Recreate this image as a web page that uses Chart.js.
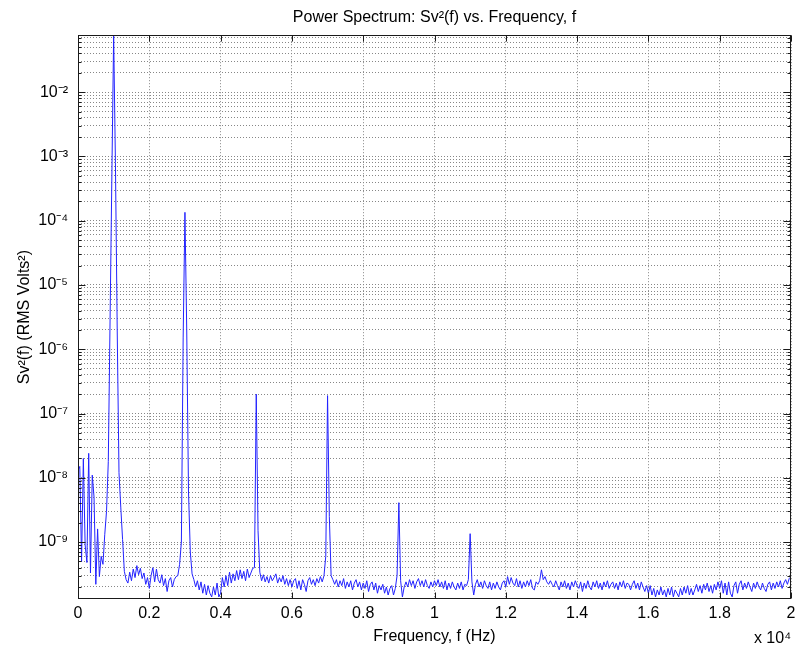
<!DOCTYPE html>
<html>
<head>
<meta charset="utf-8">
<script src="https://cdn.jsdelivr.net/npm/chart.js@4.4.1/dist/chart.umd.min.js"></script>
<style>
  html, body { margin: 0; padding: 0; background: #fff; }
  canvas { display: block; }
</style>
</head>
<body>
<canvas id="c" width="797" height="652"></canvas>
<script>
// ---- Data ----
// Frequency bins are spaced 50 Hz apart, starting at 0 Hz.
const BIN_HZ = 50;
const FREQ_MAX_HZ = 20000;
const X_TICK_STEP_HZ = 2000;
const X_SCALE_DIVISOR = 1e4;   // axis reads "x 10^4"
const Y_MIN = 1.3e-10;
const Y_MAX = 0.077;

// Sv^2(f) values, RMS Volts^2; each row = 10 bins = 500 Hz
const psd_0_to_4950 = [
  1.3e-8, 1.5e-8, 5e-10, 2.0e-8, 9e-10, 4.8e-10, 2.4e-8, 3.3e-10, 1.1e-8, 5e-9,
  2.2e-10, 1.6e-9, 2.9e-10, 6e-10, 4.5e-10, 1.3e-9, 3.0e-9, 1.8e-8, 3e-6, 5e-4,
  7.7e-2, 8e-4, 2e-6, 1.2e-8, 3.5e-9, 1.1e-9, 3.5e-10, 2.6e-10, 2.3e-10, 3.4e-10,
  2.5e-10, 3.8e-10, 2.8e-10, 4.3e-10, 3.1e-10, 3.9e-10, 2.7e-10, 3.3e-10, 2.2e-10, 2.8e-10,
  1.9e-10, 3.0e-10, 4.0e-10, 2.4e-10, 3.8e-10, 2.6e-10, 2.3e-10, 3.1e-10, 2.1e-10, 2.7e-10,
  1.7e-10, 2.5e-10, 2.8e-10, 2.0e-10, 2.6e-10, 2.9e-10, 3.0e-10, 4.5e-10, 1.0e-9, 1.5e-6,
  1.35e-4, 2e-6, 6e-9, 7e-10, 3.2e-10, 2.6e-10, 2.0e-10, 2.5e-10, 1.8e-10, 2.4e-10,
  1.6e-10, 2.2e-10, 1.5e-10, 2.1e-10, 1.6e-10, 1.4e-10, 2.0e-10, 1.5e-10, 2.3e-10, 1.4e-10,
  1.6e-10, 2.8e-10, 2.0e-10, 3.0e-10, 2.1e-10, 3.4e-10, 2.3e-10, 3.2e-10, 2.5e-10, 3.6e-10,
  2.6e-10, 3.7e-10, 2.7e-10, 3.5e-10, 2.5e-10, 3.8e-10, 2.8e-10, 3.3e-10, 3.9e-10, 4.0e-10
];
const psd_5000_to_9950 = [
  2.0e-7, 1.5e-9, 3.4e-10, 2.5e-10, 3.1e-10, 2.4e-10, 2.9e-10, 2.3e-10, 3.0e-10, 2.5e-10,
  2.8e-10, 3.2e-10, 2.3e-10, 2.8e-10, 2.4e-10, 3.0e-10, 2.2e-10, 2.7e-10, 2.1e-10, 2.6e-10,
  2.0e-10, 2.5e-10, 2.7e-10, 1.9e-10, 2.5e-10, 1.8e-10, 2.6e-10, 2.2e-10, 1.7e-10, 2.5e-10,
  2.8e-10, 2.2e-10, 2.6e-10, 2.1e-10, 2.7e-10, 2.3e-10, 2.9e-10, 2.4e-10, 3.0e-10, 6e-10,
  1.9e-7, 2.5e-9, 3.0e-10, 2.6e-10, 2.2e-10, 2.6e-10, 2.0e-10, 2.5e-10, 2.1e-10, 2.7e-10,
  1.9e-10, 2.4e-10, 2.0e-10, 2.5e-10, 1.8e-10, 2.3e-10, 2.6e-10, 2.0e-10, 2.4e-10, 1.8e-10,
  2.3e-10, 1.9e-10, 2.5e-10, 1.7e-10, 2.2e-10, 2.4e-10, 1.8e-10, 2.3e-10, 1.6e-10, 2.1e-10,
  1.8e-10, 2.2e-10, 1.6e-10, 2.0e-10, 1.5e-10, 1.9e-10, 2.1e-10, 1.5e-10, 1.9e-10, 3.0e-10,
  4.1e-9, 2.5e-10, 1.4e-10, 2.0e-10, 2.4e-10, 2.0e-10, 2.6e-10, 2.1e-10, 2.5e-10, 1.9e-10,
  2.4e-10, 2.7e-10, 2.1e-10, 2.5e-10, 2.0e-10, 2.6e-10, 2.1e-10, 1.9e-10, 2.4e-10, 2.0e-10
];
const psd_10000_to_14950 = [
  2.5e-10, 2.1e-10, 2.6e-10, 2.0e-10, 2.4e-10, 1.9e-10, 2.5e-10, 1.8e-10, 2.3e-10, 1.9e-10,
  2.4e-10, 2.0e-10, 1.8e-10, 2.3e-10, 1.9e-10, 2.4e-10, 1.8e-10, 2.2e-10, 2.1e-10, 2.6e-10,
  1.35e-9, 2.4e-10, 1.5e-10, 2.2e-10, 2.6e-10, 2.0e-10, 2.4e-10, 1.9e-10, 2.5e-10, 2.1e-10,
  1.9e-10, 2.4e-10, 1.8e-10, 2.3e-10, 1.9e-10, 2.4e-10, 2.0e-10, 1.8e-10, 2.3e-10, 2.5e-10,
  2.0e-10, 2.9e-10, 2.2e-10, 2.8e-10, 2.3e-10, 2.1e-10, 2.7e-10, 2.0e-10, 2.5e-10, 1.9e-10,
  2.4e-10, 2.0e-10, 2.5e-10, 2.1e-10, 2.6e-10, 1.9e-10, 1.8e-10, 2.4e-10, 2.2e-10, 2.5e-10,
  3.7e-10, 2.6e-10, 2.9e-10, 2.4e-10, 2.2e-10, 2.5e-10, 2.2e-10, 2.0e-10, 2.5e-10, 2.1e-10,
  1.8e-10, 2.4e-10, 2.0e-10, 2.5e-10, 1.9e-10, 2.3e-10, 1.8e-10, 2.4e-10, 2.0e-10, 2.5e-10,
  2.1e-10, 1.9e-10, 2.4e-10, 1.7e-10, 2.3e-10, 1.9e-10, 2.5e-10, 2.0e-10, 1.8e-10, 2.4e-10,
  2.0e-10, 2.5e-10, 1.9e-10, 2.3e-10, 1.8e-10, 2.4e-10, 2.0e-10, 2.5e-10, 1.9e-10, 2.2e-10
];
const psd_15000_to_20000 = [
  2.4e-10, 1.9e-10, 2.3e-10, 1.8e-10, 2.4e-10, 2.0e-10, 2.5e-10, 1.9e-10, 2.3e-10, 2.2e-10,
  1.8e-10, 2.2e-10, 2.5e-10, 1.9e-10, 2.3e-10, 1.8e-10, 2.4e-10, 2.0e-10, 1.7e-10, 2.1e-10,
  1.6e-10, 2.1e-10, 1.5e-10, 1.9e-10, 1.4e-10, 1.8e-10, 1.5e-10, 2.0e-10, 1.5e-10, 1.8e-10,
  1.4e-10, 1.9e-10, 1.5e-10, 2.0e-10, 1.4e-10, 1.8e-10, 1.6e-10, 1.4e-10, 1.9e-10, 1.5e-10,
  2.0e-10, 1.6e-10, 2.1e-10, 1.5e-10, 1.9e-10, 1.5e-10, 1.8e-10, 2.2e-10, 1.7e-10, 2.1e-10,
  1.6e-10, 2.2e-10, 1.8e-10, 2.3e-10, 1.7e-10, 2.1e-10, 1.6e-10, 2.2e-10, 1.8e-10, 2.4e-10,
  1.9e-10, 2.5e-10, 1.6e-10, 2.3e-10, 1.5e-10, 2.4e-10, 1.6e-10, 1.4e-10, 2.1e-10, 2.4e-10,
  1.6e-10, 2.2e-10, 2.5e-10, 1.8e-10, 2.3e-10, 1.9e-10, 2.4e-10, 2.0e-10, 1.7e-10, 2.3e-10,
  1.9e-10, 2.4e-10, 2.0e-10, 1.8e-10, 2.3e-10, 1.9e-10, 1.7e-10, 2.2e-10, 2.4e-10, 1.8e-10,
  2.3e-10, 1.9e-10, 2.4e-10, 2.0e-10, 2.5e-10, 1.9e-10, 2.3e-10, 2.6e-10, 2.2e-10, 2.7e-10,
  2.9e-10
];

const TITLE = 'Power Spectrum: Sv\u00B2(f) vs. Frequency, f';
const X_TITLE = 'Frequency, f (Hz)';
const Y_TITLE = 'Sv\u00B2(f) (RMS Volts\u00B2)';
const X_MULTIPLIER_LABEL = 'x 10\u2074';

// ---- Build dataset ----
const psd = [].concat(psd_0_to_4950, psd_5000_to_9950, psd_10000_to_14950, psd_15000_to_20000);
const points = psd.map((v, i) => ({ x: i * BIN_HZ, y: v }));

const SUP = {'-': '\u207B', '0': '\u2070', '1': '\u00B9', '2': '\u00B2', '3': '\u00B3',
             '4': '\u2074', '5': '\u2075', '6': '\u2076', '7': '\u2077', '8': '\u2078', '9': '\u2079'};
function sup(s) { return String(s).split('').map(c => SUP[c] || c).join(''); }
function decadeExp(v) {
  const e = Math.round(Math.log10(v));
  return Math.abs(v / Math.pow(10, e) - 1) < 1e-6 ? e : null;
}

const FONT = '"Liberation Sans", Arial, Helvetica, sans-serif';
const GRID_COLOR = 'rgb(135,135,135)';

const frameAndTicks = {
  id: 'frameAndTicks',
  afterDraw(chart) {
    const { ctx, chartArea: a, scales: { x, y } } = chart;
    const L = Math.round(a.left) + 0.5, R = Math.round(a.right) - 0.5;
    const T = Math.round(a.top) + 0.5, B = Math.round(a.bottom) - 0.5;
    ctx.save();
    ctx.strokeStyle = '#1a1a1a';
    ctx.lineWidth = 1;
    ctx.beginPath();
    x.ticks.forEach(t => {
      const px = Math.round(x.getPixelForValue(t.value)) + 0.5;
      ctx.moveTo(px, B); ctx.lineTo(px, B - 6);
      ctx.moveTo(px, T); ctx.lineTo(px, T + 6);
    });
    y.ticks.forEach(t => {
      const py = Math.round(y.getPixelForValue(t.value)) + 0.5;
      const len = decadeExp(t.value) !== null ? 7 : 3;
      ctx.moveTo(L, py); ctx.lineTo(L + len, py);
      ctx.moveTo(R, py); ctx.lineTo(R - len, py);
    });
    ctx.stroke();
    ctx.strokeRect(L, T, R - L, B - T);
    ctx.fillStyle = '#000';
    ctx.font = '16px ' + FONT;
    ctx.textAlign = 'right';
    ctx.textBaseline = 'middle';
    ctx.fillText(X_MULTIPLIER_LABEL, a.right, a.bottom + 40);
    ctx.restore();
  }
};

new Chart(document.getElementById('c'), {
  type: 'line',
  data: {
    datasets: [{
      data: points,
      borderColor: 'rgb(35,35,255)',
      borderWidth: 1,
      pointRadius: 0,
      tension: 0,
      fill: false
    }]
  },
  options: {
    responsive: false,
    animation: false,
    events: [],
    layout: { padding: { left: 0, right: 6, top: 0, bottom: 0 } },
    plugins: {
      legend: { display: false },
      tooltip: { enabled: false },
      title: {
        display: true,
        text: TITLE,
        fullSize: false,
        color: '#000',
        font: { family: FONT, size: 16, weight: 'normal' },
        padding: { top: 8, bottom: 8 }
      }
    },
    scales: {
      x: {
        type: 'linear',
        min: 0,
        max: FREQ_MAX_HZ,
        afterFit(scale) { scale.height = 53; scale.paddingLeft = 0; scale.paddingRight = 0; },
        grid: { color: GRID_COLOR, drawTicks: false, lineWidth: 1 },
        border: { display: false, dash: [1, 2] },
        ticks: {
          stepSize: X_TICK_STEP_HZ,
          autoSkip: false,
          maxRotation: 0,
          padding: 5,
          color: '#000',
          font: { family: FONT, size: 16 },
          callback: v => String(+(v / X_SCALE_DIVISOR).toFixed(2))
        },
        title: {
          display: true,
          text: X_TITLE,
          color: '#000',
          font: { family: FONT, size: 16 },
          padding: { top: 0, bottom: 6 }
        }
      },
      y: {
        type: 'logarithmic',
        min: Y_MIN,
        max: Y_MAX,
        afterFit(scale) { scale.width = 78; scale.paddingTop = 0; scale.paddingBottom = 0; },
        afterBuildTicks(scale) {
          const ticks = [];
          const e0 = Math.floor(Math.log10(Y_MIN)), e1 = Math.ceil(Math.log10(Y_MAX));
          for (let e = e0; e <= e1; e++) {
            for (let m = 1; m <= 9; m++) {
              const v = +(m * Math.pow(10, e)).toPrecision(6);
              if (v >= Y_MIN && v <= Y_MAX) ticks.push({ value: v });
            }
          }
          scale.ticks = ticks;
        },
        grid: { color: GRID_COLOR, drawTicks: false, lineWidth: 1 },
        border: { display: false, dash: [1, 2] },
        ticks: {
          autoSkip: false,
          padding: 10,
          color: '#000',
          font: { family: FONT, size: 16 },
          callback: v => {
            const e = decadeExp(v);
            return e === null ? '' : '10' + sup(e);
          }
        },
        title: {
          display: true,
          text: Y_TITLE,
          color: '#000',
          font: { family: FONT, size: 16 },
          padding: { top: 15, bottom: 0 }
        }
      }
    }
  },
  plugins: [frameAndTicks]
});
</script>
</body>
</html>
